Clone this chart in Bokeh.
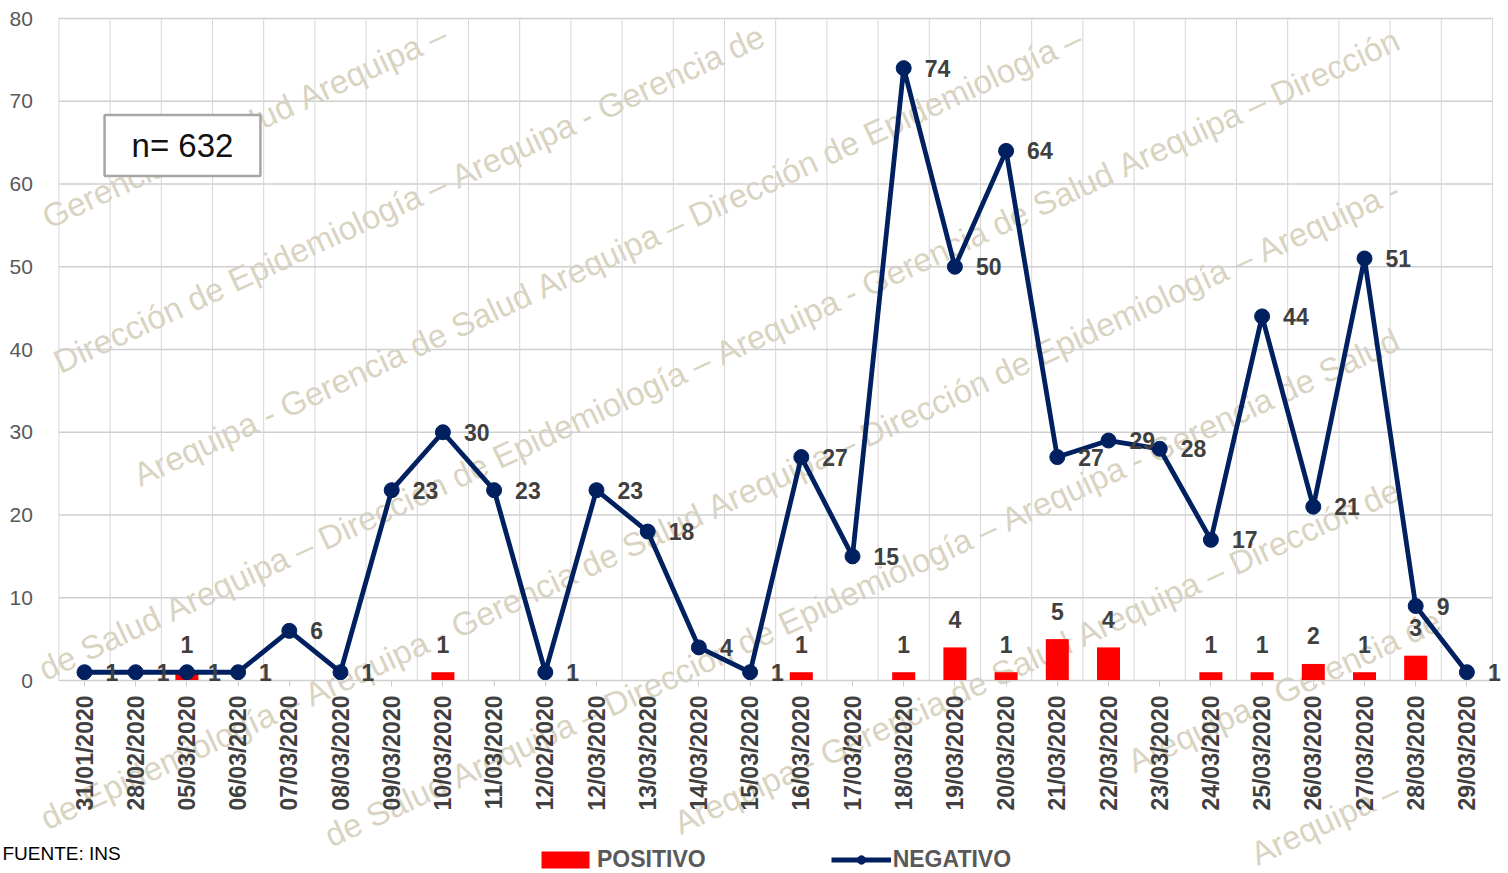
import math
from math import pi
from bokeh.plotting import figure
from bokeh.models import (Range1d, FixedTicker, ColumnDataSource, LabelSet, Label,
                          Legend, LegendItem)
from bokeh.core.properties import value
from bokeh.embed import file_html
from bokeh.resources import INLINE

dates = ["31/01/2020", "28/02/2020", "05/03/2020", "06/03/2020", "07/03/2020",
         "08/03/2020", "09/03/2020", "10/03/2020", "11/03/2020", "12/02/2020",
         "12/03/2020", "13/03/2020", "14/03/2020", "15/03/2020", "16/03/2020",
         "17/03/2020", "18/03/2020", "19/03/2020", "20/03/2020", "21/03/2020",
         "22/03/2020", "23/03/2020", "24/03/2020", "25/03/2020", "26/03/2020",
         "27/03/2020", "28/03/2020", "29/03/2020"]
negativo = [1, 1, 1, 1, 6, 1, 23, 30, 23, 1, 23, 18, 4, 1, 27, 15, 74, 50, 64,
            27, 29, 28, 17, 44, 21, 51, 9, 1]
positivo = [0, 0, 1, 0, 0, 0, 0, 1, 0, 0, 0, 0, 0, 0, 1, 0, 1, 4, 1, 5, 4, 0,
            1, 1, 2, 1, 3, 0]
y_ticks = [0, 10, 20, 30, 40, 50, 60, 70, 80]
total_text = "n= 632"
fuente_text = "FUENTE: INS"
watermark_words = ["Dirección", "de", "Epidemiología –", "Arequipa -", "Gerencia",
                   "de", "Salud", "Arequipa –"]

FONT = "Liberation Sans"
n = len(dates)
xs = list(range(n))

# layout geometry (pixels)
W, H = 1508, 873
LEFT, STEP = 58.4, 51.2          # x of first category boundary, px per category
ZERO, UNIT = 680.0, 8.275        # y of value 0, px per unit

def dx(px):
    return (px - LEFT) / STEP - 0.5

def dy(py):
    return (ZERO - py) / UNIT

p = figure(width=W, height=H, output_backend="svg", toolbar_location=None,
           x_range=Range1d(dx(0), dx(W)), y_range=Range1d(dy(H), dy(0)),
           min_border_left=0, min_border_right=0, min_border_top=0,
           min_border_bottom=0)
p.outline_line_color = None
p.background_fill_color = "white"
p.grid.visible = False

# ---- watermark (decorative) ----
CW = {' ': 278, 'D': 722, 'i': 222, 'r': 333, 'e': 556, 'c': 500, 'ó': 556,
      'n': 556, 'd': 556, 'E': 667, 'p': 556, 'm': 833, 'o': 556, 'l': 222,
      'g': 556, 'í': 278, 'a': 556, '–': 556, 'A': 667, 'q': 556, 'u': 556,
      '-': 333, 'G': 778, 'S': 667}
FS = 33
ANG = 25
th = math.radians(ANG)
cs, sn = math.cos(th), math.sin(th)
MARGIN = 6

def tw(s):
    return sum(CW.get(c, 556) for c in s) * FS / 1000.0

for k in range(-1, 11):
    y_left = 89.0 + 150.0 * k
    x0 = -500.0
    y0 = y_left + 500.0 * math.tan(th)
    s = 0.0
    ci = 3 * k + 5
    while True:
        word = watermark_words[ci % len(watermark_words)]
        w = tw(word)
        sx, sy = x0 + s * cs, y0 - s * sn
        if sx > W:
            break
        asc, desc = 0.74 * FS, 0.22 * FS
        pts = []
        for a in (0.0, w):
            bx, by = sx + a * cs, sy - a * sn
            pts.append((bx - asc * sn, by - asc * cs))
            pts.append((bx + desc * sn, by + desc * cs))
        if all(MARGIN <= px_ <= W - MARGIN and MARGIN <= py_ <= H - MARGIN
               for px_, py_ in pts):
            p.add_layout(Label(x=dx(sx), y=dy(sy), text=word, angle=ANG,
                               angle_units="deg", text_font=FONT,
                               text_font_size=f"{FS}px", text_color="#c9c0a6",
                               text_alpha=0.7, text_baseline="alphabetic",
                               text_align="left", level="underlay"))
        s += w + tw(" ")
        ci += 1

# ---- grid lines (bounded to the plot area) ----
p.segment(x0=[-0.5] * len(y_ticks), x1=[n - 0.5] * len(y_ticks), y0=y_ticks,
          y1=y_ticks, line_color="#cfcfcf", line_width=1.3)
bounds = [i - 0.5 for i in range(n + 1)]
p.segment(x0=bounds, x1=bounds, y0=[0] * len(bounds),
          y1=[y_ticks[-1]] * len(bounds), line_color="#d6d6d6", line_width=1)

# ---- axes drawn at fixed locations inside the canvas ----
p.xaxis.fixed_location = 0
p.xaxis.bounds = (-0.5, n - 0.5)
p.xaxis.ticker = FixedTicker(ticks=xs)
p.xaxis.major_label_overrides = {i: d for i, d in enumerate(dates)}
p.xaxis.major_label_orientation = pi / 2
p.xaxis.major_label_text_font = FONT
p.xaxis.major_label_text_font_size = "23px"
p.xaxis.major_label_text_font_style = "bold"
p.xaxis.major_label_text_color = "#404040"
p.xaxis.axis_line_color = "#cfcfcf"
p.xaxis.major_tick_line_color = "#cfcfcf"
p.xaxis.major_tick_in = 0
p.xaxis.major_tick_out = 6
p.xaxis.minor_tick_line_color = None
p.xaxis.major_label_standoff = 9

p.yaxis.fixed_location = -0.5
p.yaxis.ticker = FixedTicker(ticks=y_ticks)
p.yaxis.axis_line_color = None
p.yaxis.major_tick_line_color = None
p.yaxis.minor_tick_line_color = None
p.yaxis.major_label_text_font = FONT
p.yaxis.major_label_text_font_size = "21px"
p.yaxis.major_label_text_color = "#595959"
p.yaxis.major_label_standoff = 20

# ---- data ----
src = ColumnDataSource(dict(x=xs, neg=negativo, pos=positivo,
                            neg_lbl=[str(v) for v in negativo]))
pos_idx = [i for i, v in enumerate(positivo) if v > 0]
psrc = ColumnDataSource(dict(x=[xs[i] for i in pos_idx],
                             pos=[positivo[i] for i in pos_idx],
                             lbl=[str(positivo[i]) for i in pos_idx]))

bar_r = p.vbar(x="x", top="pos", width=0.45, bottom=0, source=src,
               fill_color="#ff0000", line_color=None)
line_r = p.line(x="x", y="neg", source=src, line_color="#002060", line_width=4.8)
dot_r = p.scatter(x="x", y="neg", source=src, size=15, fill_color="#002060",
                  line_color="#002060")

p.add_layout(LabelSet(x="x", y="neg", text="neg_lbl", source=src, x_offset=21,
                      text_align="left", text_baseline="middle",
                      text_font=value(FONT), text_font_size="23px",
                      text_font_style="bold", text_color="#404040"))
p.add_layout(LabelSet(x="x", y="pos", text="lbl", source=psrc, y_offset=28,
                      text_align="center", text_baseline="middle",
                      text_font=value(FONT), text_font_size="23px",
                      text_font_style="bold", text_color="#404040"))

# ---- n box ----
p.add_layout(Label(x=dx(182), y=dy(145), text=total_text, text_align="center",
                   text_baseline="middle", text_font=FONT, text_font_size="33px",
                   text_color="#111111", border_line_color="#a6a6a6",
                   border_line_width=2.5, background_fill_color="white",
                   padding=(27, 12)))

# ---- source note ----
p.add_layout(Label(x=dx(2), y=dy(853), text=fuente_text, text_align="left",
                   text_baseline="middle", text_font=FONT, text_font_size="19px",
                   text_color="#000000"))

legend = Legend(items=[LegendItem(label="POSITIVO", renderers=[bar_r]),
                       LegendItem(label="NEGATIVO", renderers=[line_r, dot_r])],
                location=(535, 0), orientation="horizontal", glyph_width=60,
                glyph_height=21, label_text_font=FONT, label_text_font_size="23px",
                label_text_font_style="bold", label_text_color="#595959",
                spacing=125, padding=0, margin=0, border_line_color=None,
                background_fill_alpha=0, label_standoff=2)
p.add_layout(legend)

open("out.html", "w").write(file_html(p, INLINE))
